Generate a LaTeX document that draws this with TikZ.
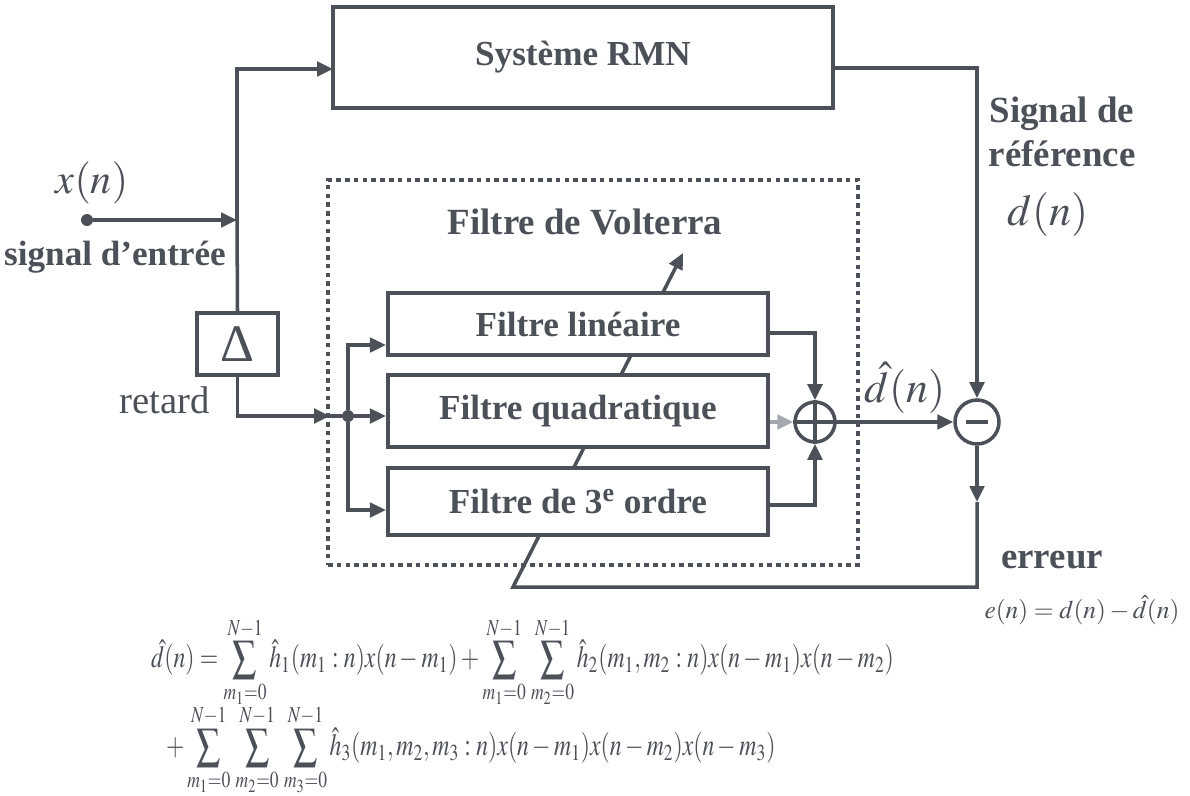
\documentclass[tikz,border=0pt]{standalone}
\usepackage{mathptmx}
\usepackage{fontspec}
\setmainfont{Liberation Serif}
\usetikzlibrary{arrows.meta,positioning}
\definecolor{inkGray}{HTML}{4C5058}
\definecolor{faintGray}{HTML}{A4A8AE}

\begin{document}
\begin{tikzpicture}[
    x=0.2mm, y=-0.2mm,
    >={Triangle[length=3.2mm,width=2.9mm]},
    every node/.style={text=inkGray},
    blockNode/.style={
        rectangle, draw=inkGray, fill=white, line width=2.4pt,
        align=center,
        font=\fontsize{20}{22}\selectfont\bfseries
    },
    sumNode/.style={circle, draw=inkGray, fill=white, line width=2pt, minimum size=8mm, inner sep=0pt},
    dotNode/.style={circle, fill=inkGray, inner sep=0pt, minimum size=2.4mm},
    frame/.style={draw=inkGray, line width=2.6pt, dash pattern=on 2.6pt off 2.4pt},
    tagText/.style={font=\fontsize{20}{25}\selectfont\bfseries, align=center},
    flow/.style={->, draw=inkGray, line width=2pt},
    wire/.style={draw=inkGray, line width=2pt}
]
\fill[white] (0,0) rectangle (1190,795);
\useasboundingbox (0,0) rectangle (1190,795);

% bends
\coordinate (split) at (237,220);
\coordinate (rmnIn) at (333,69);
\coordinate (rmnOut) at (833,68);
\coordinate (voltIn) at (330,416);
\coordinate (errMid) at (977,502);
\coordinate (errCorner) at (977,587);
\coordinate (adaptFoot) at (513,587);
\coordinate (adaptTip) at (683,253);

% adaptation path runs behind the filter blocks
\draw[flow] (errMid) -- (errCorner) -- (adaptFoot) -- (adaptTip);

% blocks
\node[blockNode, minimum width=10cm, minimum height=2.02cm] (rmn) at (583,57.5) {Système RMN};
\node[blockNode, minimum width=1.62cm, minimum height=1.24cm,
      font=\fontsize{30}{30}\selectfont] (delta) at (237.5,344) {Δ};
\node[frame, minimum width=10.6cm, minimum height=7.7cm] (volterra) at (593,372.5) {};
\node[tagText, font=\fontsize{21}{25}\selectfont\bfseries] (volTitle) at (585,222) {Filtre de Volterra};

\node[blockNode, minimum width=7.6cm, minimum height=1.24cm] (lin) at (578,324) {Filtre linéaire};
\node[blockNode, minimum width=7.6cm, minimum height=1.44cm] (quad) at (578,411) {Filtre quadratique};
\node[blockNode, minimum width=7.6cm, minimum height=1.34cm] (third) at (578,501.5)
  {Filtre de 3\textsuperscript{e} ordre};

\node[sumNode] (sum) at (815,422) {};
\draw[wire] (sum.north) -- (sum.south) (sum.west) -- (sum.east);
\node[sumNode, minimum size=8.8mm] (minus) at (977,422) {};
\draw[wire] ([xshift=-2.2mm]minus.center) -- ([xshift=2.2mm]minus.center);

\node[dotNode] (xin) at (87,220) {};
\node[dotNode] (junc) at (348,416) {};

% labels
\node[font=\fontsize{24}{26}\selectfont] (xLabel) at (92,183) {$x(n)$};
\node[tagText] (inLabel) at (115,257) {signal d’entrée};
\node[font=\fontsize{22}{24}\selectfont] (delayLabel) at (165,400) {retard};
\node[tagText, font=\fontsize{21}{25}\selectfont\bfseries] (refLabel) at (1062,132) {Signal de\\référence};
\node[font=\fontsize{25}{27}\selectfont] (dLabel) at (1048,215) {$d(n)$};
\node[font=\fontsize{25}{27}\selectfont] (dhatLabel) at (905,388) {$\hat{d}(n)$};
\node[tagText, font=\fontsize{21}{22}\selectfont\bfseries] (errLabel) at (1052,560) {erreur};
\node[font=\fontsize{14.5}{17}\selectfont] (errEq) at (1082,610) {$e(n)=d(n)-\hat{d}(n)$};

\node[anchor=west, font=\fontsize{13.5}{16}\selectfont] (eqOne) at (145,662)
  {\scalebox{1}[1.3]{$\displaystyle \hat{d}(n)=\sum_{m_1=0}^{N-1}\hat{h}_1(m_1:n)x(n-m_1)
   +\sum_{m_1=0}^{N-1}\,\sum_{m_2=0}^{N-1}\hat{h}_2(m_1,m_2:n)x(n-m_1)x(n-m_2)$}};
\node[anchor=west, font=\fontsize{13.5}{16}\selectfont] (eqTwo) at (160,750)
  {\scalebox{1}[1.3]{$\displaystyle +\sum_{m_1=0}^{N-1}\,\sum_{m_2=0}^{N-1}\,\sum_{m_3=0}^{N-1}\hat{h}_3(m_1,m_2,m_3:n)
   x(n-m_1)x(n-m_2)x(n-m_3)$}};

% connectors
\draw[flow] (xin) -- (split);
\draw[flow] (delta.north) -- (split) |- (rmnIn);
\draw[flow] (delta.south) |- (voltIn);
\draw[wire] (voltIn) -- (junc);
\draw[flow] (junc) |- ([yshift=-4.2mm]lin.west);
\draw[flow] (junc) -- (junc -| quad.west);
\draw[flow] (junc) |- ([yshift=-1.7mm]third.west);
\draw[flow] ([yshift=-1.8mm]lin.east) -| (sum.north);
\draw[flow] ([yshift=-0.7mm]third.east) -| (sum.south);
\draw[flow, draw=faintGray] (quad.east |- sum.west) -- (sum.west);
\draw[flow] (sum.east) -- (minus.west);
\draw[flow] (rmnOut) -| (minus.north);
\draw[flow] (minus.south) -- (errMid);

\end{tikzpicture}
\end{document}
